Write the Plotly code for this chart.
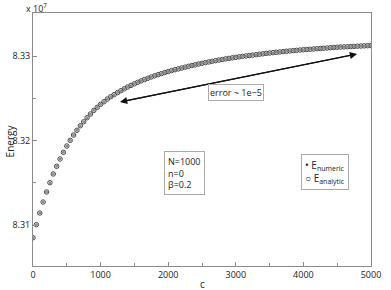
import plotly.graph_objects as go

# c values (every 50 from 0 to 5000)
c_values = [i * 50 for i in range(101)]

# Energy values in units of 1e7
energy_numeric = [
    8.30850, 8.31004, 8.31142, 8.31272, 8.31391, 8.31501, 8.31604, 8.31695, 8.31781, 8.31860,
    8.31935, 8.32002, 8.32065, 8.32121, 8.32175, 8.32222, 8.32270, 8.32314, 8.32357, 8.32393,
    8.32428, 8.32459, 8.32491, 8.32518, 8.32543, 8.32567, 8.32590, 8.32612, 8.32633, 8.32652,
    8.32671, 8.32689, 8.32706, 8.32722, 8.32737, 8.32752, 8.32766, 8.32779, 8.32792, 8.32804,
    8.32816, 8.32827, 8.32838, 8.32848, 8.32858, 8.32868, 8.32878, 8.32887, 8.32896, 8.32905,
    8.32914, 8.32922, 8.32930, 8.32938, 8.32945, 8.32952, 8.32959, 8.32966, 8.32972, 8.32978,
    8.32984, 8.32990, 8.32996, 8.33001, 8.33006, 8.33011, 8.33016, 8.33021, 8.33026, 8.33031,
    8.33035, 8.33040, 8.33044, 8.33048, 8.33052, 8.33056, 8.33060, 8.33064, 8.33067, 8.33071,
    8.33074, 8.33077, 8.33080, 8.33083, 8.33086, 8.33089, 8.33092, 8.33095, 8.33098, 8.33101,
    8.33104, 8.33106, 8.33108, 8.33110, 8.33112, 8.33114, 8.33116, 8.33118, 8.33120, 8.33122,
    8.33124,
]
energy_analytic = list(energy_numeric)

x_tickvals = [0, 1000, 2000, 3000, 4000, 5000]
x_ticktext = ["0", "1000", "2000", "3000", "4000", "5000"]
y_tickvals = [8.31, 8.32, 8.33]
y_ticktext = ["8.31", "8.32", "8.33"]

FONT = "Open Sans"
AXIS_COLOR = "#8a8a8a"
TEXT_COLOR = "#222"

# plot-area pixel geometry (for placing paper-referenced boxes)
L, R, T, B = 33.3, 381.7, 13.0, 266.0
PW, PH = R - L, B - T


def px(xp):
    return (xp - L) / PW


def py(yp):
    return (B - yp) / PH


fig = go.Figure()
fig.add_trace(go.Scatter(
    x=c_values, y=energy_analytic, mode="markers", name="E<sub>analytic</sub>",
    marker=dict(symbol="circle-open", size=4.5, color="#4a4a4a", line=dict(width=1, color="#4a4a4a")),
    showlegend=False,
))
fig.add_trace(go.Scatter(
    x=c_values, y=energy_numeric, mode="markers", name="E<sub>numeric</sub>",
    marker=dict(symbol="circle", size=3, color="#8c8c8c"),
    showlegend=False,
))

axis_common = dict(
    showgrid=False, zeroline=False, showline=True, linecolor=AXIS_COLOR, linewidth=1,
    mirror=True, ticks="inside", ticklen=4, tickcolor=AXIS_COLOR, tickwidth=1,
    tickfont=dict(family=FONT, size=9, color=TEXT_COLOR), ticklabeloverflow="allow",
)
fig.update_xaxes(range=[0, 5000], tickvals=x_tickvals, ticktext=x_ticktext,
                 minor=dict(dtick=500, tick0=0, ticks="inside", ticklen=3, tickcolor=AXIS_COLOR),
                 **axis_common)
fig.update_yaxes(range=[8.30515, 8.33509], tickvals=y_tickvals, ticktext=y_ticktext,
                 minor=dict(dtick=0.005, tick0=8.30, ticks="inside", ticklen=3, tickcolor=AXIS_COLOR),
                 **axis_common)

annotations = [
    # exponent
    dict(xref="paper", yref="paper", x=px(24), y=py(-1), xanchor="left", yanchor="top",
         text="x 10<sup>7</sup>", showarrow=False, font=dict(family=FONT, size=9, color=TEXT_COLOR)),
    # axis titles
    dict(xref="paper", yref="paper", x=px(208), y=py(284), xanchor="center", yanchor="middle",
         text="c", showarrow=False, font=dict(family=FONT, size=10, color=TEXT_COLOR)),
    dict(xref="paper", yref="paper", x=px(10), y=py(141), xanchor="center", yanchor="middle",
         text="Energy", textangle=-90, showarrow=False, font=dict(family=FONT, size=10, color=TEXT_COLOR)),
    # double arrow
    dict(x=1287, y=8.32456, ax=4793, ay=8.33024, xref="x", yref="y", axref="x", ayref="y",
         text="", showarrow=True, arrowhead=2, arrowsize=1.2, arrowwidth=1.2, arrowcolor="#111"),
    dict(x=4793, y=8.33024, ax=1287, ay=8.32456, xref="x", yref="y", axref="x", ayref="y",
         text="", showarrow=True, arrowhead=2, arrowsize=1.2, arrowwidth=1.2, arrowcolor="#111"),
    # error label
    dict(xref="paper", yref="paper", x=px(243), y=py(92.5),
         xanchor="center", yanchor="middle", text="error ~ 1e\u22125", showarrow=False,
         bordercolor="#aaaaaa", borderwidth=1, borderpad=1, bgcolor="white",
         font=dict(family=FONT, size=9, color=TEXT_COLOR)),
    # parameter box
    dict(xref="paper", yref="paper", x=px(211), y=py(172.5),
         xanchor="right", yanchor="middle", align="left",
         text="N=1000<br>n=0<br>\u03b2=0.2", showarrow=False,
         bordercolor="#aaaaaa", borderwidth=1, borderpad=3, bgcolor="white",
         font=dict(family=FONT, size=9, color=TEXT_COLOR)),
    # legend box
    dict(xref="paper", yref="paper", x=px(359), y=py(172),
         xanchor="right", yanchor="middle", align="left",
         text="\u2022 E<sub>numeric</sub><br>\u25cb E<sub>analytic</sub>", showarrow=False,
         bordercolor="#aaaaaa", borderwidth=1, borderpad=3, bgcolor="white",
         font=dict(family=FONT, size=10, color=TEXT_COLOR)),
]

fig.update_layout(
    width=391, height=290,
    margin=dict(l=L, r=391 - R, t=T, b=290 - B, pad=0),
    paper_bgcolor="white", plot_bgcolor="white",
    annotations=annotations,
    font=dict(family=FONT, size=9),
)

fig.write_html("out.html", config={"displayModeBar": False},
               post_script="document.body.style.margin='0';")
